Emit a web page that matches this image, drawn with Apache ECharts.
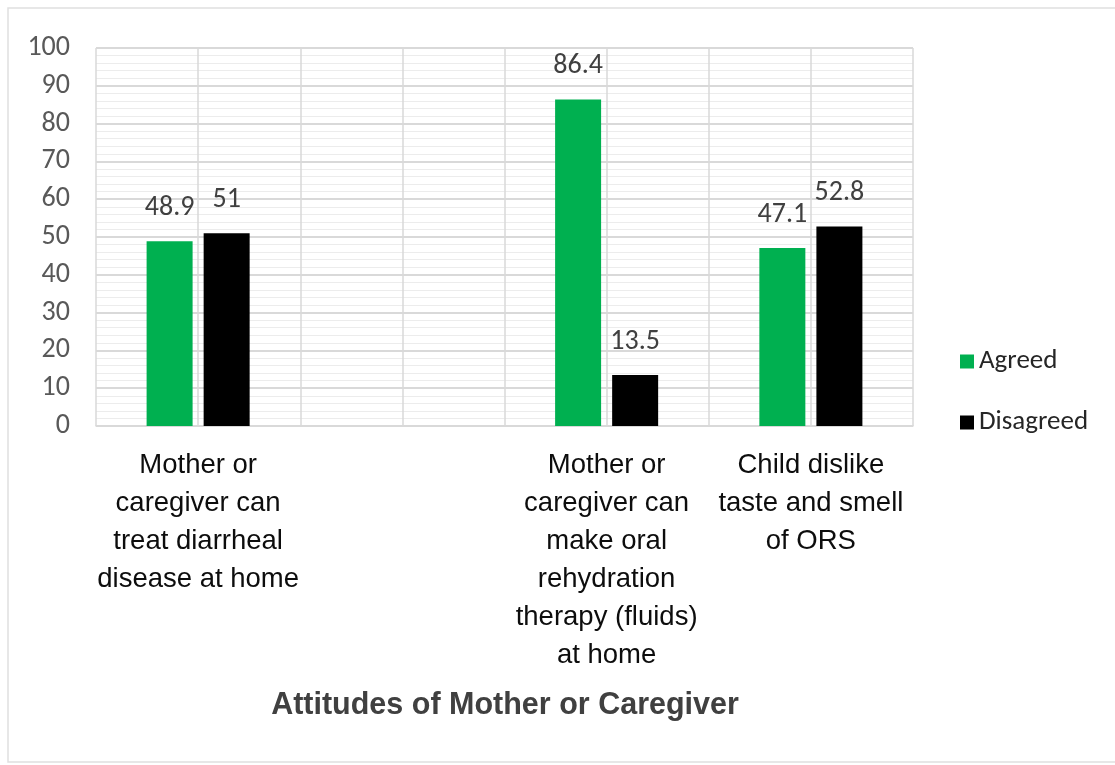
<!DOCTYPE html>
<html>
<head>
<meta charset="utf-8">
<script src="https://cdn.jsdelivr.net/npm/echarts@6/dist/echarts.min.js"></script>
<style>
  html, body { margin: 0; padding: 0; background: #ffffff; }
  #chart { width: 1115px; height: 765px; }
</style>
</head>
<body>
<div id="chart"></div>
<script>
// Attitude items (the second slot is intentionally left blank)
const categories = [
  'Mother or\ncaregiver can\ntreat diarrheal\ndisease at home',
  '',
  'Mother or\ncaregiver can\nmake oral\nrehydration\ntherapy (fluids)\nat home',
  'Child dislike\ntaste and smell\nof ORS'
];
const agreed = [48.9, null, 86.4, 47.1];
const disagreed = [51, null, 13.5, 52.8];
const seriesNames = ['Agreed', 'Disagreed'];
const axisTitle = 'Attitudes of Mother or Caregiver';

// half-category slots, used only to draw the vertical grid lines
const halfSlots = [];
categories.forEach(function () { halfSlots.push('', ''); });

const arial = '"Liberation Sans", Arial, sans-serif';
const soft = 'Carlito, Lato, "Liberation Sans", sans-serif';
const grey = '#d9d9d9';

const chart = echarts.init(document.getElementById('chart'), null, { renderer: 'canvas' });

const valueLabel = {
  show: true,
  position: 'top',
  distance: 19,
  fontFamily: soft,
  fontSize: 28,
  color: '#404040'
};

chart.setOption({
  backgroundColor: '#ffffff',
  animation: false,
  grid: { left: 96, right: 202, top: 48, bottom: 339, containLabel: false },
  legend: {
    orient: 'vertical',
    left: 955,
    top: 343,
    itemWidth: 14,
    itemHeight: 14,
    itemGap: 34,
    icon: 'rect',
    data: seriesNames,
    textStyle: { fontFamily: soft, fontSize: 27, color: '#262626', padding: [0, 0, 0, 0] }
  },
  xAxis: [
    {
      type: 'category',
      data: categories,
      axisLine: { show: true, lineStyle: { color: grey, width: 1.5 } },
      axisTick: { show: false },
      splitLine: { show: false },
      axisLabel: {
        interval: 0,
        margin: 20,
        fontFamily: arial,
        fontSize: 27.5,
        lineHeight: 38,
        color: '#0d0d0d',
        align: 'center'
      }
    },
    {
      type: 'category',
      data: halfSlots,
      position: 'bottom',
      axisLine: { show: false },
      axisTick: { show: false },
      axisLabel: { show: false },
      splitLine: { show: true, interval: 0, lineStyle: { color: grey, width: 1.5 } }
    }
  ],
  yAxis: {
    type: 'value',
    min: 0,
    max: 100,
    interval: 10,
    axisLine: { show: false },
    axisTick: { show: false },
    axisLabel: {
      margin: 26,
      fontFamily: soft,
      fontSize: 28,
      color: '#595959'
    },
    splitLine: { show: true, lineStyle: { color: grey, width: 2 } },
    minorTick: { show: false, splitNumber: 5 },
    minorSplitLine: { show: true, lineStyle: { color: '#ececec', width: 1 } }
  },
  series: [
    {
      name: seriesNames[0],
      type: 'bar',
      xAxisIndex: 0,
      data: agreed,
      barWidth: 46,
      barGap: '24%',
      itemStyle: { color: '#00b050' },
      label: valueLabel
    },
    {
      name: seriesNames[1],
      type: 'bar',
      xAxisIndex: 0,
      data: disagreed,
      barWidth: 46,
      barGap: '24%',
      itemStyle: { color: '#000000' },
      label: valueLabel
    }
  ],
  graphic: [
    {
      type: 'rect',
      z: -10,
      shape: { x: 8, y: 8, width: 1120, height: 754 },
      style: { fill: 'none', stroke: '#e0e0e0', lineWidth: 1.5 }
    },
    {
      type: 'text',
      x: 505,
      y: 706,
      style: {
        text: axisTitle,
        fontFamily: arial,
        fontWeight: 'bold',
        fontSize: 30.5,
        fill: '#404040',
        align: 'center',
        verticalAlign: 'middle'
      }
    }
  ]
});
</script>
</body>
</html>
